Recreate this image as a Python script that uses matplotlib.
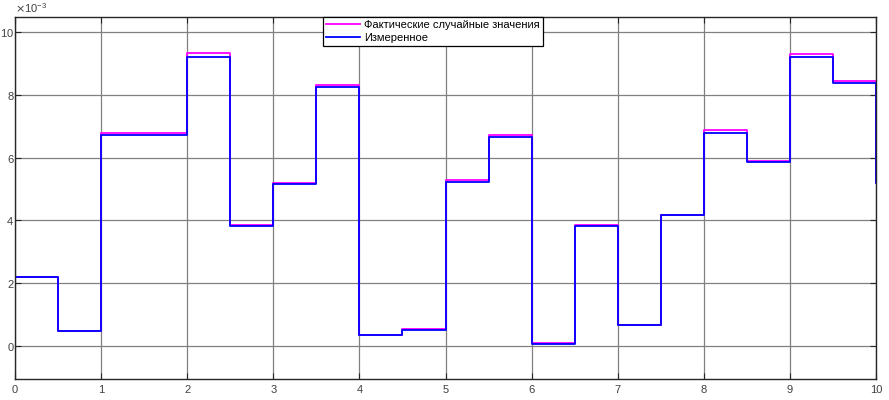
import matplotlib.pyplot as plt
import numpy as np
from matplotlib.ticker import ScalarFormatter

# sample times (step held until next sample)
t = [0, 0.5, 1, 1.5, 2, 2.5, 3, 3.5, 4, 4.5, 5, 5.5, 6, 6.5, 7, 7.5, 8, 8.5, 9, 9.5, 10]

# actual random values (x1e-3)
actual = [2.20, 0.48, 6.77, 6.77, 9.32, 3.86, 5.20, 8.30, 0.35, 0.53, 5.28, 6.71,
          0.09, 3.86, 0.67, 4.17, 6.87, 5.90, 9.29, 8.44, 5.24]
# measured values (x1e-3)
measured = [2.19, 0.47, 6.73, 6.73, 9.21, 3.82, 5.16, 8.24, 0.34, 0.52, 5.24, 6.65,
            0.08, 3.82, 0.66, 4.16, 6.80, 5.85, 9.20, 8.37, 5.20]

actual = np.array(actual) * 1e-3
measured = np.array(measured) * 1e-3

plt.rcParams['font.family'] = ['Liberation Sans', 'DejaVu Sans']
fig = plt.figure(figsize=(8.89, 4.0), dpi=100)
ax = fig.add_axes([15 / 889, 21 / 400, 861 / 889, 362 / 400])

ax.step(t, actual, where='post', color='#ff00ff', lw=1.3,
        label='Фактические случайные значения')
ax.step(t, measured, where='post', color='#0000ff', lw=1.3, label='Измеренное')

ax.set_xlim(0, 10)
ax.set_ylim(-1.05e-3, 10.48e-3)
ax.set_xticks(np.arange(0, 11, 1))
ax.set_yticks(np.arange(0, 11e-3, 2e-3))

fmt = ScalarFormatter(useMathText=True)
fmt.set_powerlimits((-3, -3))
ax.yaxis.set_major_formatter(fmt)

ax.grid(True, color='#808080', lw=0.9)
ax.tick_params(direction='in', length=4, top=True, right=True, labelsize=8,
               colors='#262626', labelcolor='#404040')
ax.tick_params(axis='x', pad=4)
ax.tick_params(axis='y', pad=0.5)
ax.yaxis.get_offset_text().set_fontsize(8)
ax.yaxis.get_offset_text().set_color('#404040')
for s in ax.spines.values():
    s.set_color('#262626')
    s.set_linewidth(1.0)

leg = ax.legend(loc='upper left', bbox_to_anchor=(308 / 861, 1.0), fontsize=8,
                fancybox=False, framealpha=1, edgecolor='black',
                borderpad=0.3, labelspacing=0.2, handlelength=3.0,
                handletextpad=0.4, borderaxespad=0)
leg.get_frame().set_linewidth(0.9)

fig.savefig('out.png', dpi=100)
